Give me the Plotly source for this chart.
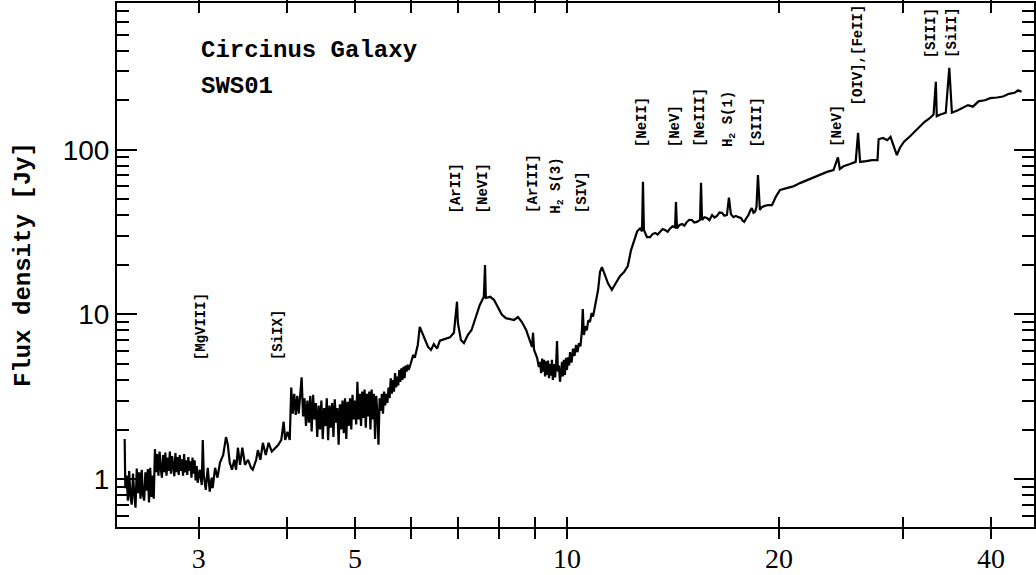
import math
import plotly.graph_objects as go

# ---------------- data ----------------
# ISO-SWS spectrum of the Circinus galaxy: wavelength [micron], flux density [Jy]
wl_seg1 = [2.355, 2.36, 2.37, 2.38, 2.39, 2.40, 2.41, 2.42, 2.43, 2.44, 2.45, 2.46, 2.47,
           2.48, 2.49, 2.50, 2.51, 2.52, 2.53, 2.54, 2.55, 2.56, 2.57, 2.58, 2.59, 2.60]
fx_seg1 = [1.75, 0.88, 1.05, 0.74, 1.12, 0.78, 0.70, 1.08, 0.80, 0.67, 1.16, 0.82, 1.10,
           0.76, 1.14, 0.80, 0.74, 1.10, 0.85, 1.15, 0.72, 1.17, 0.78, 1.05, 0.76, 1.52]

wl_seg2 = [2.61, 2.62, 2.63, 2.64, 2.65, 2.66, 2.67, 2.68, 2.69, 2.70, 2.71, 2.72, 2.73,
           2.74, 2.75, 2.76, 2.77, 2.78, 2.79, 2.80, 2.81, 2.82, 2.83, 2.84, 2.85, 2.86,
           2.87, 2.88, 2.89, 2.90, 2.91, 2.92, 2.93, 2.94, 2.95, 2.96, 2.97, 2.98, 2.99]
fx_seg2 = [1.10, 1.42, 1.05, 1.47, 1.15, 1.02, 1.40, 1.10, 1.45, 1.05, 1.35, 1.12, 1.47,
           1.08, 1.38, 1.15, 1.04, 1.44, 1.10, 1.36, 1.06, 1.40, 1.12, 1.32, 1.05, 1.42,
           1.10, 1.30, 1.06, 1.36, 1.12, 1.28, 1.02, 1.35, 1.08, 1.30, 0.98, 1.20, 0.95]

wl_seg3 = [3.01, 3.03, 3.04, 3.05, 3.07, 3.09, 3.11, 3.13, 3.14, 3.165, 3.19, 3.216,
           3.25, 3.27, 3.28, 3.30, 3.32, 3.345, 3.37, 3.39, 3.41, 3.434, 3.46, 3.49,
           3.525, 3.56, 3.58, 3.62, 3.64, 3.67, 3.70, 3.735, 3.77, 3.81, 3.85, 3.89,
           3.93, 3.96, 3.98, 4.01, 4.04]
fx_seg3 = [1.14, 0.92, 1.73, 1.06, 0.86, 1.17, 0.84, 1.02, 0.88, 1.17, 1.02, 1.26,
           1.40, 1.73, 1.80, 1.61, 1.26, 1.14, 1.31, 1.14, 1.55, 1.22, 1.55, 1.22,
           1.31, 1.17, 1.14, 1.31, 1.50, 1.31, 1.66, 1.40, 1.66, 1.47, 1.54, 1.61,
           1.73, 2.23, 1.73, 1.94, 1.73]

wl_seg4 = [4.06, 4.08, 4.10, 4.12, 4.14, 4.16, 4.18, 4.20, 4.22, 4.24,
           4.26, 4.28, 4.30, 4.32, 4.34, 4.36, 4.38, 4.40, 4.42, 4.44,
           4.46, 4.48, 4.50, 4.52, 4.54, 4.56, 4.58, 4.60, 4.62, 4.64,
           4.66, 4.68, 4.70, 4.72, 4.74, 4.76, 4.78, 4.80, 4.82, 4.84,
           4.86, 4.88, 4.90, 4.92, 4.94, 4.96, 4.98, 5.00, 5.02, 5.04,
           5.06, 5.08, 5.10, 5.12, 5.14, 5.16, 5.18, 5.20, 5.22, 5.24,
           5.26, 5.28, 5.30, 5.32, 5.34, 5.36, 5.38, 5.40, 5.42, 5.44,
           5.46, 5.48, 5.50, 5.52, 5.54, 5.56, 5.58, 5.60, 5.62, 5.64,
           5.66, 5.68, 5.70, 5.72, 5.74, 5.76, 5.78, 5.80, 5.82, 5.84,
           5.86, 5.88, 5.90, 5.92, 5.94, 5.96, 5.98]
fx_seg4 = [3.6, 2.5, 3.3, 2.45, 3.2, 2.5, 3.3, 4.15, 2.4, 3.1,
           2.1, 3.0, 2.2, 3.2, 1.95, 3.25, 2.3, 2.9, 1.8, 2.8,
           2.0, 3.0, 1.75, 2.7, 2.1, 3.1, 1.72, 2.8, 2.05, 2.9,
           1.8, 3.05, 2.2, 2.7, 1.62, 2.85, 2.0, 3.0, 1.9, 3.1,
           1.75, 2.95, 2.1, 3.1, 2.0, 3.25, 2.3, 3.0, 2.15, 3.9,
           2.3, 3.3, 2.1, 3.4, 2.35, 3.5, 2.05, 3.3, 2.4, 3.4,
           2.0, 3.5, 2.3, 3.3, 1.75, 3.2, 2.5, 1.62, 3.1, 2.6,
           3.3, 2.5, 3.4, 2.8, 3.3, 2.9, 3.6, 3.1, 4.1, 3.3,
           4.0, 3.4, 4.4, 3.6, 4.2, 3.7, 4.6, 3.9, 4.7, 4.0,
           4.8, 4.1, 4.9, 4.5, 4.95, 4.6, 4.8]

wl_seg5 = [6.05, 6.08, 6.14, 6.18, 6.22, 6.29, 6.35, 6.41, 6.47, 6.54, 6.60, 6.71,
           6.82, 6.91, 6.98, 7.00, 7.07, 7.14, 7.23, 7.32, 7.42, 7.52, 7.62, 7.65,
           7.67, 7.78, 7.88, 7.98, 8.08, 8.19, 8.30, 8.41, 8.52, 8.63, 8.75, 8.86,
           8.92, 8.95, 8.98]
fx_seg5 = [5.68, 5.45, 6.53, 8.4, 7.8, 7.0, 6.35, 6.09, 6.6, 6.2, 6.93, 7.1,
           7.26, 7.75, 11.95, 8.9, 7.0, 6.7, 7.5, 8.05, 9.5, 11.42, 12.8, 19.97,
           12.6, 12.8, 12.25, 11.1, 10.0, 9.5, 9.4, 9.26, 9.65, 9.0, 8.05, 7.0,
           6.35, 7.75, 6.09]

wl_seg6 = [9.07, 9.12, 9.16, 9.19, 9.22, 9.25, 9.28, 9.31, 9.34, 9.37, 9.40, 9.43,
           9.46, 9.49, 9.52, 9.55, 9.58, 9.62, 9.65, 9.68, 9.71, 9.74, 9.775, 9.81,
           9.84, 9.87, 9.90, 9.93, 9.97, 10.0, 10.03, 10.07, 10.10, 10.15, 10.2, 10.25,
           10.3, 10.35, 10.4, 10.45, 10.5, 10.53, 10.57, 10.62, 10.67, 10.72, 10.78, 10.84,
           10.89, 10.95, 11.0, 11.07, 11.14, 11.21]
fx_seg6 = [5.45, 4.8, 5.15, 4.4, 5.4, 4.5, 5.3, 4.2, 5.2, 4.3, 5.25, 4.1,
           5.0, 4.25, 5.3, 4.0, 5.0, 4.15, 4.94, 6.9, 4.5, 4.9, 3.9, 4.8,
           5.15, 4.2, 5.3, 4.3, 5.45, 4.6, 5.5, 4.9, 5.9, 5.1, 6.2, 5.6,
           6.53, 5.9, 6.7, 6.4, 7.95, 10.8, 7.5, 8.5, 8.0, 9.2, 9.0, 10.2,
           9.7, 11.0, 12.25, 14.08, 18.1, 19.4]

wl_seg7 = [11.32, 11.43, 11.58, 11.73, 11.89, 12.05, 12.2, 12.33, 12.45, 12.58, 12.7, 12.78,
           12.82, 12.86, 12.99, 13.12, 13.23, 13.34, 13.45, 13.56, 13.67, 13.78, 13.9, 14.01,
           14.12, 14.24, 14.28, 14.33, 14.45, 14.57, 14.68, 14.80, 14.92, 15.04, 15.16, 15.29,
           15.45, 15.5, 15.55, 15.67, 15.8, 15.93, 16.07, 16.2, 16.33, 16.46, 16.6, 16.73,
           16.87, 16.98, 17.09, 17.23, 17.37, 17.51, 17.66, 17.75, 17.85, 17.97, 18.1, 18.2,
           18.3, 18.4, 18.5, 18.58, 18.67, 18.79, 18.9]
fx_seg7 = [17.4, 15.5, 14.1, 15.5, 17.1, 18.1, 19.7, 24.6, 28.3, 32.0, 33.3, 32.0,
           64.0, 32.6, 29.5, 29.5, 30.8, 31.3, 30.6, 32.0, 33.0, 32.6, 31.8, 33.3,
           34.3, 33.8, 48.2, 33.3, 35.0, 35.4, 34.6, 36.5, 37.6, 37.5, 36.2, 36.5,
           37.5, 63.0, 37.5, 39.0, 38.6, 37.4, 40.2, 38.8, 39.7, 41.6, 41.4, 39.8,
           40.2, 51.3, 40.7, 39.0, 39.7, 39.0, 38.6, 37.2, 36.5, 38.4, 40.2, 42.6,
           44.3, 41.5, 42.2, 45.0, 70.2, 43.1, 44.8]

wl_seg8 = [19.04, 19.3, 19.55, 19.8, 20.07, 20.5, 20.95, 21.42, 21.9, 22.4, 22.87, 23.4,
           23.9, 24.25, 24.4, 24.7, 25.23, 25.7, 25.9, 26.07, 26.6, 27.1, 27.6, 27.7,
           28.1, 28.5, 28.8, 29.1, 29.4, 29.7, 30.1, 30.7, 31.2, 31.7, 32.2, 32.7,
           33.15, 33.4, 33.5, 33.9, 34.5, 34.9, 35.2, 35.9, 36.5, 37.1, 37.7, 38.4,
           39.2, 39.9, 40.8, 41.6, 42.4, 43.2, 43.7, 44.2]
fx_seg8 = [45.5, 46.2, 46.2, 52.0, 57.0, 58.5, 60.0, 62.8, 65.5, 68.2, 71.0, 73.5,
           75.3, 90.0, 76.5, 79.5, 82.0, 84.5, 127.0, 84.5, 85.5, 86.6, 86.6, 116.0,
           118.0, 114.5, 120.0, 107.0, 93.0, 103.0, 112.0, 121.0, 130.0, 139.0, 148.0, 155.0,
           164.0, 259.0, 160.0, 164.0, 168.0, 315.0, 168.0, 174.0, 180.0, 187.0, 183.0, 197.0,
           200.0, 206.0, 208.0, 211.0, 219.0, 222.0, 230.0, 225.0]

# spectral line identifications: label, wavelength [micron], flux at label foot [Jy]
line_labels = ["[MgVIII]", "[SiIX]", "[ArII]", "[NeVI]", "[ArIII]", "H<sub>2</sub> S(3)",
               "[SIV]", "[NeII]", "[NeV]", "[NeIII]", "H<sub>2</sub> S(1)", "[SIII]",
               "[NeV]", "[OIV],[FeII]", "[SIII]", "[SiII]"]
line_wl = [3.03, 3.89, 6.96, 7.60, 8.95, 9.69, 10.50, 12.78, 14.24, 15.45, 16.98, 18.64,
           24.15, 25.90, 32.88, 35.27]
line_foot = [5.15, 5.15, 40.0, 40.0, 40.0, 40.0, 40.0, 101.0, 101.0, 101.0, 101.0, 101.0,
             101.0, 180.0, 350.0, 350.0]

x_tickvals = [3, 4, 5, 6, 7, 8, 9, 10, 20, 30, 40]
x_ticktext = ["3", "", "5", "", "", "", "", "10", "20", "", "40"]
y_tickvals = [1, 10, 100]
y_ticktext = ["1", "10", "100"]
y_minorvals = [0.6, 0.7, 0.8, 0.9, 2, 3, 4, 5, 6, 7, 8, 9,
               20, 30, 40, 50, 60, 70, 80, 90, 200, 300, 400, 500, 600, 700]

title_text = "Circinus Galaxy"
subtitle_text = "SWS01"
y_title = "Flux density [Jy]"

# ---------------- figure ----------------
wavelength = (wl_seg1 + wl_seg2 + wl_seg3 + wl_seg4 + wl_seg5 + wl_seg6 + wl_seg7 + wl_seg8)
flux = (fx_seg1 + fx_seg2 + fx_seg3 + fx_seg4 + fx_seg5 + fx_seg6 + fx_seg7 + fx_seg8)
assert len(wavelength) == len(flux)

X_RANGE = [0.3611, 1.6631]
Y_RANGE = [-0.291, 2.892]

fig = go.Figure()
fig.add_trace(go.Scatter(x=wavelength, y=flux, mode="lines",
                         line=dict(color="black", width=2.2), hoverinfo="skip"))
# invisible copy on the right-hand axis so that its ticks are drawn
fig.add_trace(go.Scatter(x=wavelength, y=flux, mode="lines", yaxis="y2",
                         line=dict(color="rgba(0,0,0,0)", width=0), hoverinfo="skip",
                         showlegend=False))

mono = "Liberation Mono"
annotations = []
for lab, w, f in zip(line_labels, line_wl, line_foot):
    annotations.append(dict(x=math.log10(w), y=math.log10(f), xref="x", yref="y",
                            text=lab, showarrow=False, textangle=-90,
                            xanchor="center", yanchor="bottom",
                            font=dict(family=mono, size=14, color="black", weight="bold")))

annotations += [
    dict(x=0.0894, y=0.910, xref="paper", yref="paper", text=title_text, showarrow=False,
         xanchor="left", yanchor="middle",
         font=dict(family=mono, size=24, color="black", weight="bold")),
    dict(x=0.0894, y=0.840, xref="paper", yref="paper", text=subtitle_text, showarrow=False,
         xanchor="left", yanchor="middle",
         font=dict(family=mono, size=24, color="black", weight="bold")),
    dict(x=0, y=0.5, xref="paper", yref="paper", xshift=-94, text=y_title, showarrow=False,
         textangle=-90, xanchor="center", yanchor="middle",
         font=dict(family=mono, size=24, color="black", weight="bold")),
]

minor_y = dict(ticks="inside", ticklen=12, tickwidth=2, tickcolor="black",
               tickmode="array", tickvals=y_minorvals, showgrid=False)

fig.update_layout(
    width=1036, height=575,
    margin=dict(l=117, r=2, t=3, b=48),
    paper_bgcolor="white", plot_bgcolor="white",
    showlegend=False,
    annotations=annotations,
    xaxis=dict(type="log", range=X_RANGE, showgrid=False, zeroline=False,
               showline=True, linecolor="black", linewidth=2, mirror="allticks",
               ticks="inside", ticklen=10, tickwidth=2, tickcolor="black",
               tickmode="array", tickvals=x_tickvals, ticktext=x_ticktext,
               tickfont=dict(family="Liberation Serif", size=28, color="black"),
               ticklabelstandoff=5, automargin=False),
    yaxis=dict(type="log", range=Y_RANGE, showgrid=False, zeroline=False,
               showline=True, linecolor="black", linewidth=2, mirror=True,
               ticks="inside", ticklen=20, tickwidth=2, tickcolor="black",
               tickmode="array", tickvals=y_tickvals, ticktext=y_ticktext,
               tickfont=dict(family="Liberation Sans", size=28, color="black"),
               minor=minor_y, automargin=False),
    yaxis2=dict(type="log", range=Y_RANGE, overlaying="y", side="right",
                showgrid=False, zeroline=False, showline=False, showticklabels=False,
                ticks="inside", ticklen=20, tickwidth=2, tickcolor="black",
                tickmode="array", tickvals=y_tickvals,
                minor=minor_y, automargin=False),
)

fig.write_html("out.html", config={"displayModeBar": False},
               post_script="document.body.style.margin='0';document.body.style.padding='0';")
